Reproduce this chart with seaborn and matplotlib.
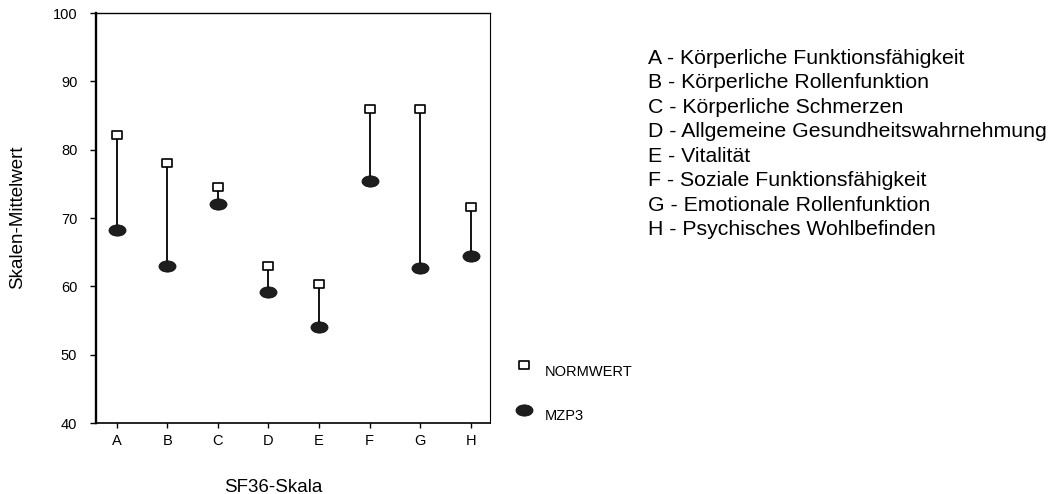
import numpy as np
import pandas as pd
import matplotlib
matplotlib.use("Agg")
import matplotlib.pyplot as plt
from matplotlib.path import Path
import seaborn as sns

categories = ["A", "B", "C", "D", "E", "F", "G", "H"]
normwert = [82.2, 78.0, 74.6, 63.0, 60.4, 85.9, 85.9, 71.6]
mzp3 = [68.3, 63.0, 72.0, 59.1, 54.1, 75.4, 62.7, 64.5]
scale_names = [
    "A - Körperliche Funktionsfähigkeit",
    "B - Körperliche Rollenfunktion",
    "C - Körperliche Schmerzen",
    "D - Allgemeine Gesundheitswahrnehmung",
    "E - Vitalität",
    "F - Soziale Funktionsfähigkeit",
    "G - Emotionale Rollenfunktion",
    "H - Psychisches Wohlbefinden",
]
series_names = ["NORMWERT", "MZP3"]
y_ticks = [40, 50, 60, 70, 80, 90, 100]

sns.set_theme(style="white")
plt.rcParams["font.family"] = ["Liberation Sans", "DejaVu Sans"]
plt.rcParams["text.color"] = "black"
plt.rcParams["axes.labelcolor"] = "black"

df = pd.DataFrame({"Skala": categories, "NORMWERT": normwert, "MZP3": mzp3})

# custom marker shapes
sq_path = Path([(-1, -0.72), (1, -0.72), (1, 0.72), (-1, 0.72), (-1, -0.72)],
               [Path.MOVETO, Path.LINETO, Path.LINETO, Path.LINETO, Path.CLOSEPOLY])
circ = Path.unit_circle()
ell_path = Path(circ.vertices * np.array([1.0, 0.66]), circ.codes)

fig = plt.figure(figsize=(10.55, 4.94), dpi=100)
ax = fig.add_axes([96 / 1055, 1 - 423 / 494, (490 - 96) / 1055, (423 - 13) / 494])

ax.vlines(df["Skala"], df["MZP3"], df["NORMWERT"], color="black", linewidth=1.3, zorder=1)
sns.scatterplot(data=df, x="Skala", y="MZP3", marker=ell_path, s=150,
                color="#1e1e1e", edgecolor="#111111", linewidth=0.6, ax=ax, zorder=2)
sns.scatterplot(data=df, x="Skala", y="NORMWERT", marker=sq_path, s=62,
                facecolor="white", edgecolor="black", linewidth=1.2, ax=ax, zorder=3)

ax.set_xlim(-0.41, 7.38)
ax.set_ylim(40, 100)
ax.set_yticks(y_ticks)
ax.set_xlabel("")
ax.set_ylabel("")
ax.tick_params(axis="y", direction="out", length=4.5, width=1, pad=9, labelsize=10.5,
               left=True, colors="black")
ax.tick_params(axis="x", direction="out", length=3.6, width=1, pad=4, labelsize=10.5,
               bottom=True, colors="black")
for name, sp in ax.spines.items():
    sp.set_color("black")
ax.spines["left"].set_linewidth(1.7)
ax.spines["bottom"].set_linewidth(1.2)
ax.spines["top"].set_linewidth(1.0)
ax.spines["right"].set_linewidth(0.8)
ax.grid(False)

fig.text(18 / 1055, 1 - 217.5 / 494, "Skalen-Mittelwert", rotation=90,
         ha="center", va="center", fontsize=13.5)
fig.text(273 / 1055, 2.5 / 494, "SF36-Skala", ha="center", va="baseline", fontsize=13.5)

for i, name in enumerate(scale_names):
    fig.text(648 / 1055, 1 - (64 + 24.45 * i) / 494, name, ha="left", va="baseline",
             fontsize=15.3)

# legend markers
lax = fig.add_axes([0, 0, 1, 1], facecolor="none")
lax.set_xlim(0, 1055)
lax.set_ylim(494, 0)
lax.axis("off")
lax.scatter([524], [364.5], marker=sq_path, s=62, facecolor="white", edgecolor="black",
            linewidth=1.2)
lax.scatter([524], [409.5], marker=ell_path, s=150, color="#1e1e1e", edgecolor="#111111",
            linewidth=0.6)
lax.text(545, 376, series_names[0], ha="left", va="baseline", fontsize=10.5)
lax.text(545, 420, series_names[1], ha="left", va="baseline", fontsize=10.5)

fig.savefig("out.png", dpi=100)
